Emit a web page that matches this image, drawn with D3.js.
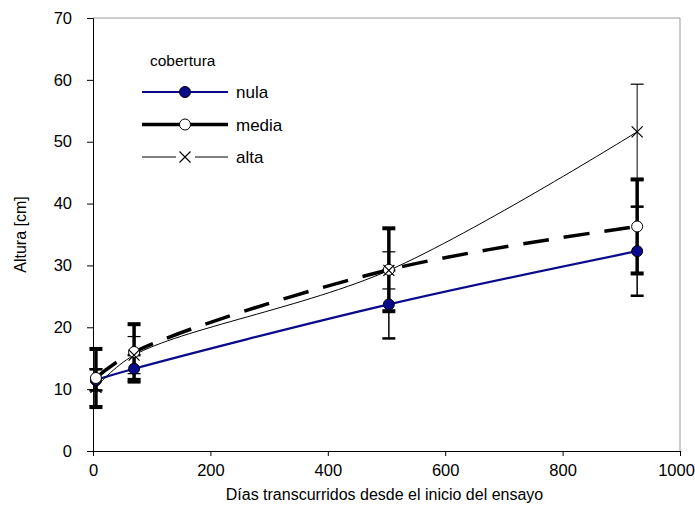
<!DOCTYPE html>
<html>
<head>
<meta charset="utf-8">
<script src="https://d3js.org/d3.v7.min.js"></script>
<style>
  body { margin: 0; background: #fff; }
  text { font-family: "Liberation Sans", Arial, sans-serif; fill: #000; }
</style>
</head>
<body>
<div id="vis"></div>
<script>
// days since start of trial
const dias = [5, 70, 504, 927];

// height (cm) and error per cover level
const nula = [11.5, 13.3, 23.7, 32.3];
const nulaErr = [1.7, 2.2, 5.5, 7.2];
const media = [11.8, 16.0, 29.3, 36.3];
const mediaErr = [4.7, 4.5, 6.7, 7.6];
const alta = [10.3, 15.5, 29.2, 51.6];
const altaErr = [3.0, 3.0, 3.0, 7.7];

const xTicks = [0, 200, 400, 600, 800, 1000];
const yTicks = [0, 10, 20, 30, 40, 50, 60, 70];

const W = 695, H = 516;
const m = {left: 93, right: 15, top: 18, bottom: 65};

const svg = d3.select("#vis").append("svg")
  .attr("width", W).attr("height", H);

const x = d3.scaleLinear().domain([0, 1000]).range([m.left, W - m.right]);
const y = d3.scaleLinear().domain([0, 70]).range([H - m.bottom, m.top]);

// plot frame (top / right in grey)
svg.append("path")
  .attr("d", `M${x(0)},${y(70)} H${x(1000)} V${y(0)}`)
  .attr("fill", "none").attr("stroke", "#9a9a9a").attr("stroke-width", 1);

// axes
const xAxis = svg.append("g").attr("transform", `translate(0,${y(0)})`)
  .call(d3.axisBottom(x).tickValues(xTicks).tickFormat(d3.format("d")).tickSize(5).tickPadding(8));
const yAxis = svg.append("g").attr("transform", `translate(${x(0)},0)`)
  .call(d3.axisLeft(y).tickValues(yTicks).tickSize(6).tickPadding(15));
[xAxis, yAxis].forEach(g => {
  g.select(".domain").attr("stroke", "#000");
  g.selectAll(".tick line").attr("stroke", "#000");
  g.selectAll("text").style("font-size", "16.5px").attr("fill", "#000")
    .style("font-family", "'Liberation Sans', Arial, sans-serif");
});
// last label sits against the window edge
xAxis.selectAll(".tick text").filter(d => d === 1000).attr("dx", -4);

svg.append("text")
  .attr("x", (x(0) + x(1000)) / 2 - 2).attr("y", 500)
  .attr("text-anchor", "middle").style("font-size", "16px")
  .text("Días transcurridos desde el inicio del ensayo");
svg.append("text")
  .attr("transform", `translate(26,${(y(0) + y(70)) / 2}) rotate(-90)`)
  .attr("text-anchor", "middle").style("font-size", "16px")
  .text("Altura [cm]");

const series = [
  {name: "nula", vals: nula, err: nulaErr, color: "#0a0a8c", lw: 2.2, dash: null,
   ebw: 1.5, capH: 2.5, marker: "dot"},
  {name: "media", vals: media, err: mediaErr, color: "#000", lw: 3.5, dash: "26,15",
   ebw: 3.5, capH: 4, marker: "open"},
  {name: "alta", vals: alta, err: altaErr, color: "#000", lw: 1, dash: null,
   ebw: 1, capH: 1.2, marker: "x"}
];

const line = d3.line().curve(d3.curveCatmullRom.alpha(0.5))
  .x(d => x(d[0])).y(d => y(d[1]));

function drawMarker(g, type, cx, cy) {
  if (type === "dot") {
    g.append("circle").attr("cx", cx).attr("cy", cy).attr("r", 5.5)
      .attr("fill", "#0a0a8c").attr("stroke", "#000").attr("stroke-width", 1);
  } else if (type === "open") {
    g.append("circle").attr("cx", cx).attr("cy", cy).attr("r", 5.5)
      .attr("fill", "#fff").attr("stroke", "#000").attr("stroke-width", 1);
  } else {
    const s = 5.5;
    g.append("path")
      .attr("d", `M${cx - s},${cy - s}L${cx + s},${cy + s}M${cx - s},${cy + s}L${cx + s},${cy - s}`)
      .attr("stroke", "#000").attr("stroke-width", 1.2).attr("fill", "none");
  }
}

// lines
series.forEach(s => {
  svg.append("path")
    .datum(dias.map((d, i) => [d, s.vals[i]]))
    .attr("d", line)
    .attr("fill", "none").attr("stroke", s.color)
    .attr("stroke-width", s.lw)
    .attr("stroke-dasharray", s.dash);
});

// error bars
series.forEach(s => {
  const g = svg.append("g");
  dias.forEach((d, i) => {
    const cx = x(d), lo = y(s.vals[i] - s.err[i]), hi = y(s.vals[i] + s.err[i]);
    g.append("line").attr("x1", cx).attr("x2", cx).attr("y1", lo).attr("y2", hi)
      .attr("stroke", "#000").attr("stroke-width", s.ebw);
    [lo, hi].forEach(yy => {
      g.append("rect").attr("x", cx - 6.5).attr("y", yy - s.capH / 2)
        .attr("width", 13).attr("height", s.capH).attr("fill", "#000");
    });
  });
});

// markers
series.forEach(s => {
  const g = svg.append("g");
  dias.forEach((d, i) => drawMarker(g, s.marker, x(d), y(s.vals[i])));
});

// legend
const leg = svg.append("g");
leg.append("text").attr("x", 150).attr("y", 66).style("font-size", "15.5px").text("cobertura");
series.forEach((s, i) => {
  const ly = 92 + i * 32.5;
  if (s.marker === "x") {
    leg.append("line").attr("x1", 142).attr("x2", 176).attr("y1", ly).attr("y2", ly)
      .attr("stroke", s.color).attr("stroke-width", s.lw);
    leg.append("line").attr("x1", 195).attr("x2", 228).attr("y1", ly).attr("y2", ly)
      .attr("stroke", s.color).attr("stroke-width", s.lw);
  } else {
    leg.append("line").attr("x1", 142).attr("x2", 228).attr("y1", ly).attr("y2", ly)
      .attr("stroke", s.color).attr("stroke-width", s.lw);
  }
  drawMarker(leg, s.marker, 185, ly);
  leg.append("text").attr("x", 236).attr("y", ly + 6).style("font-size", "17px").text(s.name);
});
</script>
</body>
</html>
